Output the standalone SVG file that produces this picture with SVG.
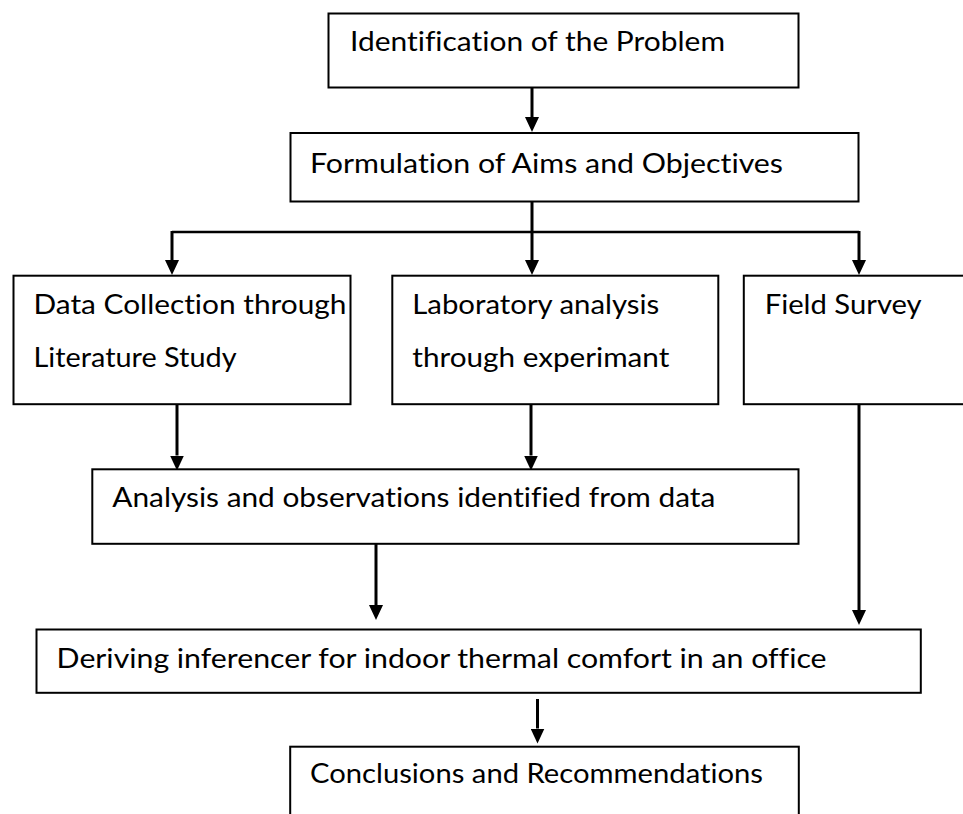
<svg xmlns="http://www.w3.org/2000/svg" width="963" height="814" viewBox="0 0 963 814">
<style>
.box{fill:#fff;stroke:#000;stroke-width:2}
.t{font-family:Lato,"Open Sans","Liberation Sans",sans-serif;font-size:26px;fill:#000;font-variant-ligatures:none}
.c{fill:none;stroke:#000;stroke-width:3}
.h{fill:none;stroke:#000;stroke-width:2.5}
</style>
<defs>
<marker id="ah" viewBox="0 0 15 14" refX="0" refY="7" markerWidth="15" markerHeight="14" markerUnits="userSpaceOnUse" orient="auto">
<path d="M0,0 L15,7 L0,14 z" fill="#000"/>
</marker>
</defs>
<rect width="963" height="814" fill="#fff"/>
<g id="connectors">
<path class="c" d="M532,87 V117" marker-end="url(#ah)"/>
<path class="c" d="M532,202 V232"/>
<path class="h" d="M172,232 H859"/>
<path class="c" d="M172,231 V260" marker-end="url(#ah)"/>
<path class="c" d="M532,231 V260" marker-end="url(#ah)"/>
<path class="c" d="M859,231 V260" marker-end="url(#ah)"/>
<path class="c" d="M177,404 V455.5" marker-end="url(#ah)"/>
<path class="c" d="M531,404 V455.5" marker-end="url(#ah)"/>
<path class="c" d="M376,544 V605" marker-end="url(#ah)"/>
<path class="c" d="M859,401.5 V610" marker-end="url(#ah)"/>
<path class="c" d="M537.5,699 V728.5" marker-end="url(#ah)"/>
</g>
<g id="n1"><rect class="box" x="328.5" y="13.5" width="470" height="74"/><text class="t" x="350" y="50.7" textLength="375" lengthAdjust="spacingAndGlyphs">Identification of the Problem</text></g>
<g id="n2"><rect class="box" x="290.5" y="133" width="568" height="68.5"/><text class="t" x="310" y="172.7" textLength="473" lengthAdjust="spacingAndGlyphs">Formulation of Aims and Objectives</text></g>
<g id="n3"><rect class="box" x="13.5" y="275.7" width="337" height="128.5"/><text class="t" x="33.5" y="314" textLength="313" lengthAdjust="spacingAndGlyphs">Data Collection through</text><text class="t" x="33.5" y="367.3" textLength="203" lengthAdjust="spacingAndGlyphs">Literature Study</text></g>
<g id="n4"><rect class="box" x="392.3" y="275.7" width="326" height="128.5"/><text class="t" x="412.3" y="313.5" textLength="247" lengthAdjust="spacingAndGlyphs">Laboratory analysis</text><text class="t" x="412.3" y="367.3" textLength="257" lengthAdjust="spacingAndGlyphs">through experimant</text></g>
<g id="n5"><rect class="box" x="743.8" y="275.7" width="240" height="128.5"/><text class="t" x="764.7" y="313.5" textLength="157" lengthAdjust="spacingAndGlyphs">Field Survey</text></g>
<g id="n6"><rect class="box" x="92.3" y="469.3" width="706.2" height="74.5"/><text class="t" x="112.3" y="507.3" textLength="603" lengthAdjust="spacingAndGlyphs">Analysis and observations identified from data</text></g>
<g id="n7"><rect class="box" x="36.5" y="629.5" width="884.3" height="63.3"/><text class="t" x="56.6" y="667.9" textLength="770" lengthAdjust="spacingAndGlyphs">Deriving inferencer for indoor thermal comfort in an office</text></g>
<g id="n8"><rect class="box" x="290.2" y="746.7" width="508.6" height="90"/><text class="t" x="310" y="783" textLength="453" lengthAdjust="spacingAndGlyphs">Conclusions and Recommendations</text></g>
</svg>
